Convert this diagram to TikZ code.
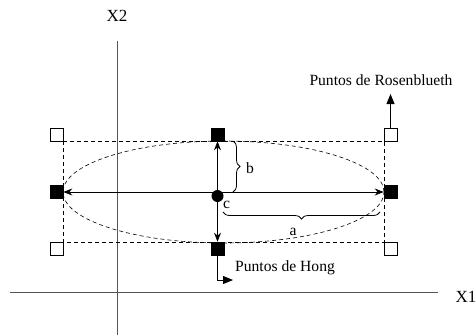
\documentclass[tikz,border=0pt]{standalone}
\usepackage{fontspec}
\setmainfont{Liberation Serif}
\usepackage{tikz}
\usetikzlibrary{arrows.meta,positioning,decorations.pathreplacing}
\definecolor{axisln}{HTML}{555555}
\tikzset{
  every node/.style={font=\fontsize{15.6}{17}\selectfont},
  sq/.style={draw=black,fill=white,minimum size=13pt,inner sep=0pt,line width=0.6pt},
  sqfull/.style={sq,fill=black},
  dot/.style={circle,fill=black,minimum size=12pt,inner sep=0pt},
  guide/.style={dashed,dash pattern=on 4pt off 3pt,line width=0.6pt},
  ar/.style={-{Stealth[length=9pt,width=7pt]},line width=0.8pt},
  tri/.style={-{Triangle[length=10pt,width=8pt]},line width=0.8pt},
  axis/.style={draw=axisln,line width=0.9pt},
  axlab/.style={font=\fontsize{17}{19}\selectfont},
  brc/.style={decorate,decoration={brace,amplitude=7pt},line width=0.8pt},
  lab/.style={inner sep=1pt},
}
\begin{document}
\begin{tikzpicture}[x=1pt,y=-1pt]
\useasboundingbox (0,0) rectangle (476,335);
% ejes
\node[axlab] (x2) at (117,16) {X2};
\node[axlab] (x1) at (466,297) {X1};
\draw[axis] (117,41) -- (117,335);
\draw[axis] (10,292) -- (438,292);
% region y elipse
\draw[guide] (63,141) rectangle (384,242);
\draw[guide] (223.5,192) ellipse [x radius=160.5pt,y radius=51pt];
% puntos de Rosenblueth
\node[sq] (tl) at (56.5,134.5) {};
\node[sq] (tr) at (390.5,134.5) {};
\node[sq] (bl) at (56.5,248.5) {};
\node[sq] (br) at (390.5,248.5) {};
% puntos de Hong
\node[sqfull] (lf) at (56.5,192) {};
\node[sqfull] (rt) at (390.5,192) {};
\node[sqfull] (tp) at (217.5,134.5) {};
\node[sqfull] (bt) at (217.5,248.5) {};
% centro
\coordinate (o) at (217.5,192);
\node[dot] (c) at (217.5,196) {};
\draw[ar] (o) -- (lf);
\draw[ar] (o) -- (rt);
\draw[ar] (o) -- (tp);
\draw[ar] (o) -- (bt);
\node[lab,anchor=north west] (clab) at (222,200) {c};
% llaves
\draw[brc] (233,141) -- (233,192);
\node[lab,anchor=west] (blab) at (245,168) {b};
\draw[brc] (380,212) -- (223,212);
\node[lab] (alab) at (293,232) {a};
% etiquetas
\node[lab] (rosen) at (381,80) {Puntos de Rosenblueth};
\coordinate (rtip) at (390.5,94);
\draw[tri] (tr) -- (rtip);
\node[lab,anchor=west] (hong) at (234,268) {Puntos de Hong};
\coordinate (hbend) at (217.5,280);
\coordinate (htip) at (233,280);
\draw[tri] (bt) -- (hbend) -- (htip);
\end{tikzpicture}
\end{document}
